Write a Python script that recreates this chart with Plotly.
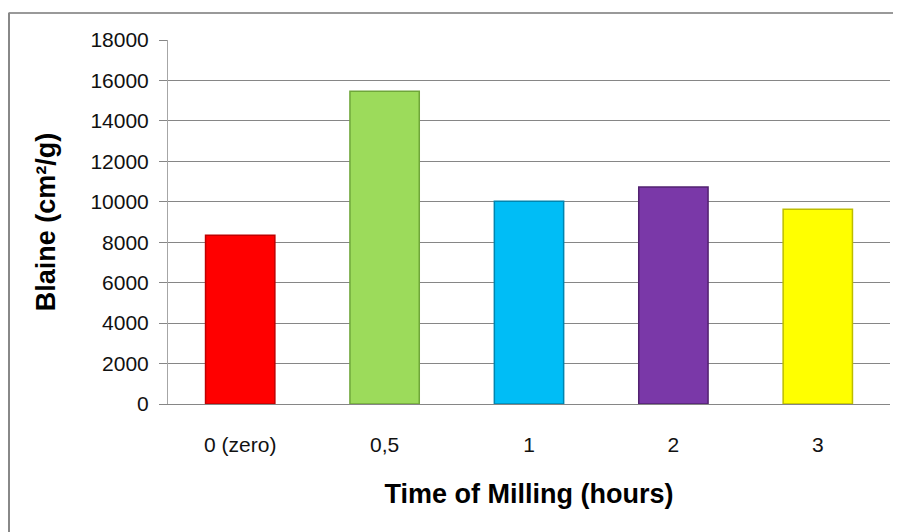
import plotly.graph_objects as go

categories = ["0 (zero)", "0,5", "1", "2", "3"]
blaine = [8350, 15470, 10020, 10730, 9630]
bar_colors = ["#FF0000", "#9CDB5B", "#00BDF6", "#7A38A8", "#FFFF00"]
edge_colors = ["#C00000", "#6FA63A", "#0085B0", "#522270", "#BDBD00"]
y_ticks = [0, 2000, 4000, 6000, 8000, 10000, 12000, 14000, 16000, 18000]
y_tick_labels = [str(v) for v in y_ticks]

# page body has an 8px margin, so the figure starts at (8, 8)
OFF = 8
W, H = 901 - OFF, 532 - OFF
ML, MR, MT, MB = 168 - OFF, 11, 40 - OFF, 128
PW, PH = W - ML - MR, H - MT - MB

def px_x(p):
    return (p - OFF - ML) / PW

def px_y(p):
    return (H + OFF - MB - p) / PH

fig = go.Figure()
fig.add_trace(go.Bar(
    x=categories, y=blaine,
    marker=dict(color=bar_colors, line=dict(color=edge_colors, width=1.5)),
    width=0.48,
))

fig.update_layout(
    width=W, height=H,
    margin=dict(l=ML, r=MR, t=MT, b=MB, autoexpand=False),
    paper_bgcolor="white", plot_bgcolor="white",
    showlegend=False,
    font=dict(family="Liberation Sans, Arial, sans-serif", color="#111"),
    xaxis=dict(
        automargin=False,
        showline=True, linecolor="#868686", linewidth=1,
        showgrid=False, ticks="",
        tickfont=dict(family="Liberation Sans Narrow, Liberation Sans, sans-serif", size=21, color="#111"),
        ticklabelstandoff=22,
        title=dict(text="<b>Time of Milling (hours)</b>",
                   font=dict(size=27, color="#000"), standoff=28),
    ),
    yaxis=dict(
        automargin=False,
        range=[0, 18000], tickvals=y_ticks, ticktext=y_tick_labels,
        showgrid=True, gridcolor="#868686", gridwidth=1,
        showline=True, linecolor="#A6A6A6", linewidth=1,
        ticks="outside", ticklen=8, tickcolor="#868686",
        tickfont=dict(size=21, color="#111"),
        ticklabelstandoff=6,
        zeroline=False,
        title=dict(text="<b>Blaine (cm²/g)</b>",
                   font=dict(size=27, color="#000"), standoff=26),
    ),
    shapes=[
        dict(type="line", xref="paper", yref="paper",
             x0=px_x(8.5), x1=px_x(905), y0=px_y(13), y1=px_y(13),
             line=dict(color="#999999", width=2)),
        dict(type="line", xref="paper", yref="paper",
             x0=px_x(9), x1=px_x(9), y0=px_y(13), y1=px_y(540),
             line=dict(color="#888888", width=2)),
    ],
)

fig.write_html("out.html", post_script="document.body.style.overflow='hidden';")
